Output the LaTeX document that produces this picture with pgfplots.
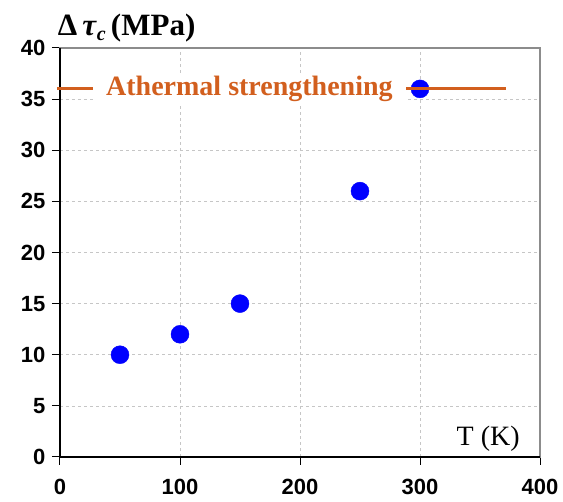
\documentclass[border=0pt]{standalone}
\usepackage{fontspec}
\setmainfont{Liberation Serif}
\newfontfamily\arialfont{Liberation Sans}
\usepackage{pgfplots}
\pgfplotsset{compat=1.18}
\definecolor{athorange}{RGB}{210,95,30}
\begin{document}
\begin{tikzpicture}
\begin{axis}[
  at={(0,0)}, anchor=south west,
  scale only axis, width=480pt, height=409pt,
  xmin=0, xmax=400, ymin=0, ymax=40,
  xtick={0,100,200,300,400}, ytick={0,5,...,40},
  xtick pos=left, ytick pos=left, tick align=outside,
  major tick length=8pt,
  tick style={black, line width=1pt},
  axis line style={draw=gray!90, line width=1.5pt},
  grid=major, major grid style={gray!45, dashed, line width=0.6pt},
  /pgf/number format/assume math mode=true,
  ticklabel style={font=\arialfont\bfseries\fontsize{22}{26}\selectfont},
  xticklabel style={yshift=-11pt},
  yticklabel style={xshift=-3pt},
  clip=false,
  set layers,
]
\addplot[only marks, mark=*, mark size=9pt, mark options={draw=blue, fill=blue}, color=blue]
  coordinates {(50,10) (100,12) (150,15) (250,26) (300,36)};
\addplot[athorange, line width=3pt, on layer=axis foreground] coordinates {(-2.5,36) (372,36)};
\begin{pgfonlayer}{axis foreground}
\node[anchor=west, fill=white, inner xsep=13pt, inner ysep=3pt, text=athorange,
  font=\bfseries\fontsize{28}{32}\selectfont] at (axis cs:27.5,36) {Athermal strengthening};
\end{pgfonlayer}
\node[anchor=base east, font=\fontsize{28}{32}\selectfont] at (axis cs:386,1.1) {T (K)};
\node[anchor=base west, inner xsep=0pt, font=\bfseries\fontsize{31}{36}\selectfont] at (axis cs:-2,41.2)
  {Δ\,\textit{τ}\raisebox{-0.35ex}{\fontsize{20}{24}\selectfont\textit{c}}\,(MPa)};
\draw[black, line width=1.5pt] (rel axis cs:0,1) -- (rel axis cs:0,0) -- (rel axis cs:1,0);
\end{axis}
\pgfresetboundingbox
\path[use as bounding box] (-60pt,-45pt) rectangle (503pt,457pt);
\end{tikzpicture}
\end{document}
